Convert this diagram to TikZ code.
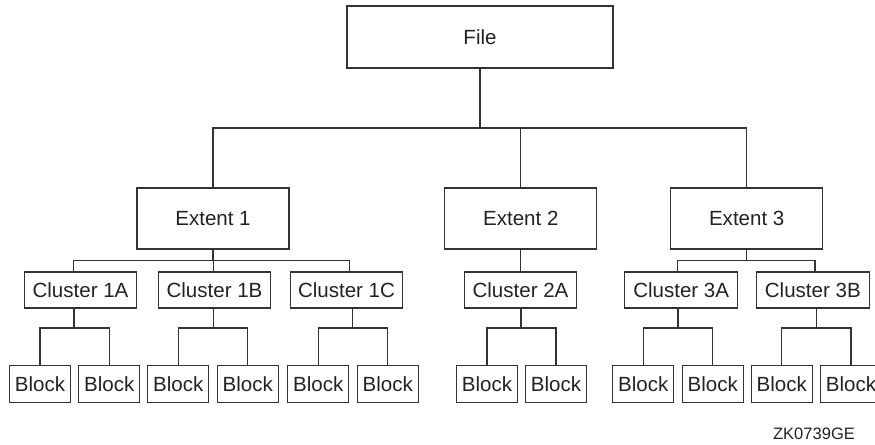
\documentclass[tikz,border=0pt]{standalone}
\usepackage{fontspec}
\setmainfont{Liberation Sans}
\usetikzlibrary{calc}
\definecolor{linec}{HTML}{333333}
\definecolor{textc}{HTML}{222222}
\begin{document}
\begin{tikzpicture}[x=0.75pt,y=-0.75pt,
  box/.style={draw=linec, line width=0.8pt, inner sep=0pt, font=\fontsize{15.4}{18}\selectfont, text=textc},
  filebox/.style={box, minimum width=199.5pt, minimum height=46.5pt},
  extbox/.style={box, minimum width=114pt, minimum height=45.75pt},
  clbox/.style={box, minimum width=84.6pt, minimum height=27pt},
  blkbox/.style={box, minimum width=45.75pt, minimum height=27.75pt},
  conn/.style={draw=linec, line width=0.8pt},
  tag/.style={font=\fontsize{12.4}{14}\selectfont, text=textc, inner sep=0pt}]
\useasboundingbox (0,0) rectangle (875,444);
% levels
\coordinate (lvl1) at (0,128);
\coordinate (lvl2) at (0,260.7);
\coordinate (lvl3) at (0,328);
% nodes
\node[filebox] (file) at (480,37) {File};
\node[extbox] (e1) at (213,218.5) {Extent 1};
\node[extbox] (e2) at (520.8,218.5) {Extent 2};
\node[extbox] (e3) at (746.7,218.5) {Extent 3};
\node[clbox] (c1a) at (80.5,290) {Cluster 1A};
\node[clbox] (c1b) at (214.5,290) {Cluster 1B};
\node[clbox] (c1c) at (346.5,290) {Cluster 1C};
\node[clbox] (c2a) at (520.5,290) {Cluster 2A};
\node[clbox] (c3a) at (681.2,290) {Cluster 3A};
\node[clbox] (c3b) at (812.8,290) {Cluster 3B};
\node[blkbox] (b1) at (40,384) {Block};
\node[blkbox] (b2) at (109.3,384) {Block};
\node[blkbox] (b3) at (178.3,384) {Block};
\node[blkbox] (b4) at (247.8,384) {Block};
\node[blkbox] (b5) at (318.3,384) {Block};
\node[blkbox] (b6) at (387.8,384) {Block};
\node[blkbox] (b7) at (487,384) {Block};
\node[blkbox] (b8) at (556,384) {Block};
\node[blkbox] (b9) at (643.3,384) {Block};
\node[blkbox] (b10) at (712.7,384) {Block};
\node[blkbox] (b11) at (781.7,384) {Block};
\node[blkbox] (b12) at (851,384) {Block};
\node[tag] (zk) at (814,434) {ZK0739GE};
% stem points
\coordinate (t1a) at ($(c1a.north)+(-7.2,0)$);
\coordinate (t1b) at ($(c1b.north)+(-1.2,0)$);
\coordinate (t1c) at ($(c1c.north)+(2.8,0)$);
\coordinate (t3a) at ($(c3a.north)+(-3.9,0)$);
\coordinate (t3b) at ($(c3b.north)+(2.2,0)$);
\coordinate (u1a) at ($(c1a.south)+(-6.5,0)$);
\coordinate (u1b) at ($(c1b.south)+(-1.2,0)$);
\coordinate (u1c) at ($(c1c.south)+(5.8,0)$);
\coordinate (u2a) at ($(c2a.south)+(0.5,0)$);
\coordinate (u3a) at ($(c3a.south)+(-3.2,0)$);
\coordinate (u3b) at ($(c3b.south)+(3.9,0)$);
% file to extents
\foreach \c in {e1,e2,e3}
  \draw[conn] (file.south) |- (lvl1 -| \c.north) -- (\c.north);
% extents to clusters
\foreach \t in {t1a,t1b,t1c}
  \draw[conn] (e1.south) |- (lvl2 -| \t) -- (\t);
\draw[conn] (e2.south) -- (e2.south |- c2a.north);
\foreach \t in {t3a,t3b}
  \draw[conn] (e3.south) |- (lvl2 -| \t) -- (\t);
% clusters to blocks
\foreach \u/\p/\q in {u1a/b1/b2,u1b/b3/b4,u1c/b5/b6,u2a/b7/b8,u3a/b9/b10,u3b/b11/b12}{
  \draw[conn] (\u) |- (lvl3 -| \p.north) -- (\p.north);
  \draw[conn] (\u) |- (lvl3 -| \q.north) -- (\q.north);
}
\end{tikzpicture}
\end{document}
